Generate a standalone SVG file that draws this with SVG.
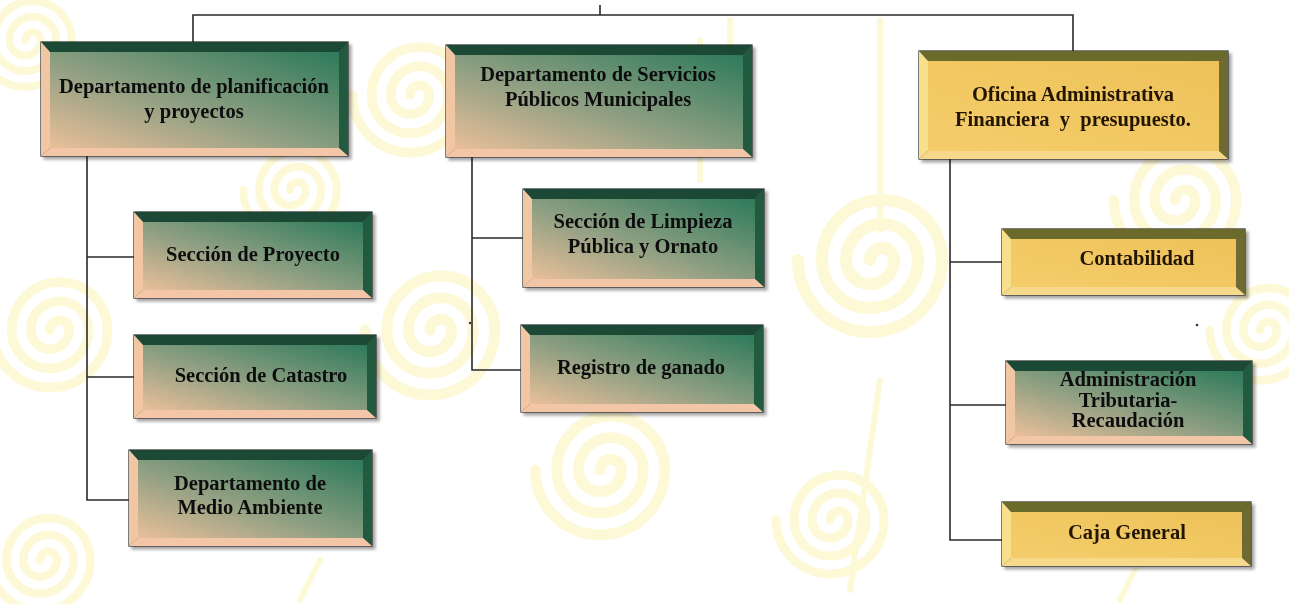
<svg xmlns="http://www.w3.org/2000/svg" width="1289" height="604" viewBox="0 0 1289 604">
<defs>
<linearGradient id="gface" x1="0" y1="1" x2="1" y2="0">
<stop offset="0" stop-color="#e9bf9a"/>
<stop offset="0.45" stop-color="#8f9f82"/>
<stop offset="1" stop-color="#2c7a5a"/>
</linearGradient>
<linearGradient id="yface" x1="0" y1="1" x2="1" y2="0">
<stop offset="0" stop-color="#f4cd6a"/>
<stop offset="1" stop-color="#eec25a"/>
</linearGradient>
<filter id="sh" x="-5%" y="-5%" width="110%" height="120%">
<feDropShadow dx="3" dy="3" stdDeviation="1.5" flood-color="#000" flood-opacity="0.35"/>
</filter>
<path id="sp" d="M0,0 a6,6 0 0 1 12,0 a12,12 0 0 1 -24,0 a18,18 0 0 1 36,0 a24,24 0 0 1 -48,0 a30,30 0 0 1 60,0 a36,36 0 0 1 -72,0"/>
</defs>
<style>
.bg{fill:none;stroke:#fdf8d6;stroke-width:6;stroke-linecap:round}
.out{stroke:#2a2a2a;stroke-width:1.2}
.gt{fill:#1f4a36}.gr{fill:#245a40}.gl{fill:#f0c7a2}.gb{fill:#f2c6a6}
.yt{fill:#6a6a2c}.yr{fill:#6e6a30}.yl{fill:#f8df8a}.yb{fill:#f6d98a}
.gf{fill:url(#gface)}.yf{fill:url(#yface)}
.t{font-family:"Liberation Serif","DejaVu Serif",serif;font-weight:bold;font-size:20.5px;fill:#0e0e0e;text-anchor:middle}
.ty{fill:#241505}
.c{fill:none;stroke:#2a2a2a;stroke-width:1.6}
</style>
<rect width="1289" height="604" fill="#ffffff"/>
<g id="background">
<use href="#sp" class="bg" transform="translate(25,40) scale(1.3)"/>
<use href="#sp" class="bg" transform="translate(410,95) scale(1.6)"/>
<use href="#sp" class="bg" transform="translate(430,330) scale(1.8)"/>
<use href="#sp" class="bg" transform="translate(600,470) scale(1.8)"/>
<use href="#sp" class="bg" transform="translate(870,260) scale(2)"/>
<use href="#sp" class="bg" transform="translate(1175,200) scale(1.7)"/>
<use href="#sp" class="bg" transform="translate(50,330) scale(1.6)"/>
<use href="#sp" class="bg" transform="translate(40,560) scale(1.4)"/>
<use href="#sp" class="bg" transform="translate(830,520) scale(1.5)"/>
<use href="#sp" class="bg" transform="translate(1260,330) scale(1.4)"/>
<use href="#sp" class="bg" transform="translate(290,190) scale(1.3)"/>
<path class="bg" d="M700,40 L700,180 M730,20 L730,140 M880,20 L880,230 M850,590 L880,380 M300,600 L320,560 M1120,600 L1140,560"/>
</g>
<g id="connectors">
<path class="c" d="M193,42 V15 H1073 V51 M600,5 V15"/>
<path class="c" d="M87,156 V500 H129 M87,257 H134 M87,377 H134"/>
<path class="c" d="M472,157 V370 H521 M472,238 H523"/>
<path class="c" d="M950,159 V540 H1002 M950,262 H1002 M950,405 H1006"/>
<circle cx="470" cy="323" r="1.2" fill="#333"/>
<circle cx="1197" cy="325" r="1.3" fill="#333"/>
</g>
<g id="n1" filter="url(#sh)">
<rect class="out" x="41" y="42" width="307" height="114" fill="#555"/>
<polygon class="gt" points="41,42 348,42 339,52 50,52"/>
<polygon class="gr" points="348,42 348,156 339,148 339,52"/>
<polygon class="gb" points="41,156 348,156 339,148 50,148"/>
<polygon class="gl" points="41,42 50,52 50,148 41,156"/>
<rect class="gf" x="50" y="52" width="289" height="96"/>
<text class="t" x="194" y="93">Departamento de planificación</text>
<text class="t" x="194" y="118">y proyectos</text>
</g>
<g id="n2" filter="url(#sh)">
<rect class="out" x="446" y="45" width="306" height="112" fill="#555"/>
<polygon class="gt" points="446,45 752,45 743,55 455,55"/>
<polygon class="gr" points="752,45 752,157 743,149 743,55"/>
<polygon class="gb" points="446,157 752,157 743,149 455,149"/>
<polygon class="gl" points="446,45 455,55 455,149 446,157"/>
<rect class="gf" x="455" y="55" width="288" height="94"/>
<text class="t" x="598" y="81">Departamento de Servicios</text>
<text class="t" x="598" y="106">Públicos Municipales</text>
</g>
<g id="n3" filter="url(#sh)">
<rect class="out" x="919" y="51" width="309" height="108" fill="#555"/>
<polygon class="yt" points="919,51 1228,51 1219,61 928,61"/>
<polygon class="yr" points="1228,51 1228,159 1219,151 1219,61"/>
<polygon class="yb" points="919,159 1228,159 1219,151 928,151"/>
<polygon class="yl" points="919,51 928,61 928,151 919,159"/>
<rect class="yf" x="928" y="61" width="291" height="90"/>
<text class="t ty" x="1073" y="101">Oficina Administrativa</text>
<text class="t ty" x="1073" y="126" xml:space="preserve">Financiera  y  presupuesto.</text>
</g>
<g id="n4" filter="url(#sh)">
<rect class="out" x="134" y="212" width="238" height="86" fill="#555"/>
<polygon class="gt" points="134,212 372,212 363,222 143,222"/>
<polygon class="gr" points="372,212 372,298 363,290 363,222"/>
<polygon class="gb" points="134,298 372,298 363,290 143,290"/>
<polygon class="gl" points="134,212 143,222 143,290 134,298"/>
<rect class="gf" x="143" y="222" width="220" height="68"/>
<text class="t" x="253" y="261">Sección de Proyecto</text>
</g>
<g id="n5" filter="url(#sh)">
<rect class="out" x="134" y="335" width="242" height="83" fill="#555"/>
<polygon class="gt" points="134,335 376,335 367,345 143,345"/>
<polygon class="gr" points="376,335 376,418 367,410 367,345"/>
<polygon class="gb" points="134,418 376,418 367,410 143,410"/>
<polygon class="gl" points="134,335 143,345 143,410 134,418"/>
<rect class="gf" x="143" y="345" width="224" height="65"/>
<text class="t" x="261" y="382">Sección de Catastro</text>
</g>
<g id="n6" filter="url(#sh)">
<rect class="out" x="129" y="450" width="243" height="96" fill="#555"/>
<polygon class="gt" points="129,450 372,450 363,460 138,460"/>
<polygon class="gr" points="372,450 372,546 363,538 363,460"/>
<polygon class="gb" points="129,546 372,546 363,538 138,538"/>
<polygon class="gl" points="129,450 138,460 138,538 129,546"/>
<rect class="gf" x="138" y="460" width="225" height="78"/>
<text class="t" x="250" y="490">Departamento de</text>
<text class="t" x="250" y="514">Medio Ambiente</text>
</g>
<g id="n7" filter="url(#sh)">
<rect class="out" x="523" y="189" width="241" height="98" fill="#555"/>
<polygon class="gt" points="523,189 764,189 755,199 532,199"/>
<polygon class="gr" points="764,189 764,287 755,279 755,199"/>
<polygon class="gb" points="523,287 764,287 755,279 532,279"/>
<polygon class="gl" points="523,189 532,199 532,279 523,287"/>
<rect class="gf" x="532" y="199" width="223" height="80"/>
<text class="t" x="643" y="228">Sección de Limpieza</text>
<text class="t" x="643" y="253">Pública y Ornato</text>
</g>
<g id="n8" filter="url(#sh)">
<rect class="out" x="521" y="325" width="242" height="87" fill="#555"/>
<polygon class="gt" points="521,325 763,325 754,335 530,335"/>
<polygon class="gr" points="763,325 763,412 754,404 754,335"/>
<polygon class="gb" points="521,412 763,412 754,404 530,404"/>
<polygon class="gl" points="521,325 530,335 530,404 521,412"/>
<rect class="gf" x="530" y="335" width="224" height="69"/>
<text class="t" x="641" y="374">Registro de ganado</text>
</g>
<g id="n9" filter="url(#sh)">
<rect class="out" x="1002" y="229" width="243" height="66" fill="#555"/>
<polygon class="yt" points="1002,229 1245,229 1236,239 1011,239"/>
<polygon class="yr" points="1245,229 1245,295 1236,287 1236,239"/>
<polygon class="yb" points="1002,295 1245,295 1236,287 1011,287"/>
<polygon class="yl" points="1002,229 1011,239 1011,287 1002,295"/>
<rect class="yf" x="1011" y="239" width="225" height="48"/>
<text class="t ty" x="1137" y="265">Contabilidad</text>
</g>
<g id="n10" filter="url(#sh)">
<rect class="out" x="1006" y="361" width="246" height="83" fill="#555"/>
<polygon class="gt" points="1006,361 1252,361 1243,371 1015,371"/>
<polygon class="gr" points="1252,361 1252,444 1243,436 1243,371"/>
<polygon class="gb" points="1006,444 1252,444 1243,436 1015,436"/>
<polygon class="gl" points="1006,361 1015,371 1015,436 1006,444"/>
<rect class="gf" x="1015" y="371" width="228" height="65"/>
<text class="t" x="1128" y="386">Administración</text>
<text class="t" x="1128" y="407">Tributaria-</text>
<text class="t" x="1128" y="427">Recaudación</text>
</g>
<g id="n11" filter="url(#sh)">
<rect class="out" x="1002" y="502" width="249" height="64" fill="#555"/>
<polygon class="yt" points="1002,502 1251,502 1242,512 1011,512"/>
<polygon class="yr" points="1251,502 1251,566 1242,558 1242,512"/>
<polygon class="yb" points="1002,566 1251,566 1242,558 1011,558"/>
<polygon class="yl" points="1002,502 1011,512 1011,558 1002,566"/>
<rect class="yf" x="1011" y="512" width="231" height="46"/>
<text class="t ty" x="1127" y="539">Caja General</text>
</g>
</svg>
